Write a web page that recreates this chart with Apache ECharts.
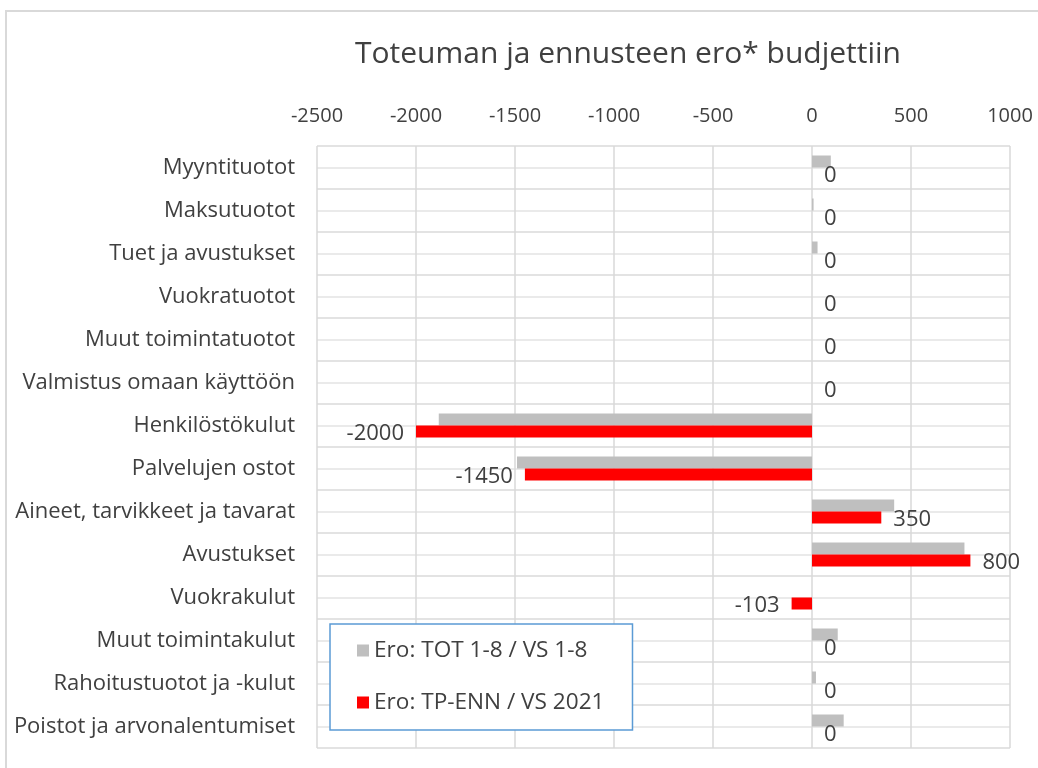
<!DOCTYPE html>
<html>
<head>
<meta charset="utf-8">
<script src="https://cdn.jsdelivr.net/npm/echarts@6/dist/echarts.min.js"></script>
<style>
  html, body { margin: 0; padding: 0; background: #fff; }
  #chart { width: 1038px; height: 768px; }
</style>
</head>
<body>
<div id="chart"></div>
<script>
const categories = [
  'Myyntituotot', 'Maksutuotot', 'Tuet ja avustukset', 'Vuokratuotot',
  'Muut toimintatuotot', 'Valmistus omaan käyttöön', 'Henkilöstökulut',
  'Palvelujen ostot', 'Aineet, tarvikkeet ja tavarat', 'Avustukset',
  'Vuokrakulut', 'Muut toimintakulut', 'Rahoitustuotot ja -kulut',
  'Poistot ja arvonalentumiset'
];
const totValues = [95, 8, 28, 0, 0, 0, -1885, -1490, 415, 770, 0, 130, 20, 160];
const ennValues = [0, 0, 0, 0, 0, 0, -2000, -1450, 350, 800, -103, 0, 0, 0];
const seriesNames = ['Ero: TOT 1-8 / VS 1-8', 'Ero: TP-ENN / VS 2021'];

const font = 'Open Sans';
const textColor = '#404040';
const gridColor = '#d9d9d9';

const chart = echarts.init(document.getElementById('chart'), null, { renderer: 'canvas' });

const option = {
  backgroundColor: '#ffffff',
  animation: false,
  title: {
    text: 'Toteuman ja ennusteen ero* budjettiin',
    left: 350,
    top: 34,
    textStyle: { fontFamily: font, fontSize: 30, fontWeight: 'normal', color: textColor }
  },
  graphic: [{
    type: 'rect',
    shape: { x: 6, y: 11, width: 1100, height: 800 },
    style: { fill: 'none', stroke: '#d9d9d9', lineWidth: 2 },
    silent: true
  }],
  legend: {
    orient: 'vertical',
    left: 330,
    top: 624,
    padding: [15, 28, 16, 27],
    itemGap: 29,
    itemWidth: 12,
    itemHeight: 12,
    icon: 'rect',
    borderColor: '#5b9bd5',
    borderWidth: 1.5,
    backgroundColor: '#ffffff',
    data: seriesNames,
    textStyle: { fontFamily: font, fontSize: 22.6, color: textColor }
  },
  grid: { left: 317, right: 28, top: 146, bottom: 20, containLabel: false },
  xAxis: {
    type: 'value',
    position: 'top',
    min: -2500,
    max: 1000,
    interval: 500,
    axisLine: { show: false },
    axisTick: { show: false },
    axisLabel: {
      fontFamily: font, fontSize: 20, color: textColor, margin: 20,
      formatter: v => String(v)
    },
    splitLine: { lineStyle: { color: gridColor, width: 1.5 } }
  },
  yAxis: [{
    type: 'category',
    data: categories,
    inverse: true,
    axisLine: { show: false },
    axisTick: { show: false },
    axisLabel: { fontFamily: font, fontSize: 22, color: textColor, margin: 22 },
    splitLine: { show: true, lineStyle: { color: gridColor, width: 1.5 } }
  }, {
    type: 'value',
    min: 0,
    max: categories.length * 2,
    interval: 1,
    position: 'left',
    axisLine: { show: false },
    axisTick: { show: false },
    axisLabel: { show: false },
    splitLine: { show: true, lineStyle: { color: '#e3e3e3', width: 1.5 } }
  }],
  series: [{
    name: seriesNames[0],
    type: 'bar',
    data: totValues,
    barWidth: 12,
    barGap: '0%',
    itemStyle: { color: '#bfbfbf' }
  }, {
    name: seriesNames[1],
    type: 'bar',
    data: ennValues.map(v => ({
      value: v,
      label: { position: v < 0 ? 'left' : 'right' }
    })),
    barWidth: 12,
    barGap: '0%',
    itemStyle: { color: '#ff0000' },
    label: {
      show: true,
      distance: 12,
      fontFamily: font,
      fontSize: 22,
      color: textColor,
      offset: [0, 2]
    }
  }]
};

chart.setOption(option);
</script>
</body>
</html>
